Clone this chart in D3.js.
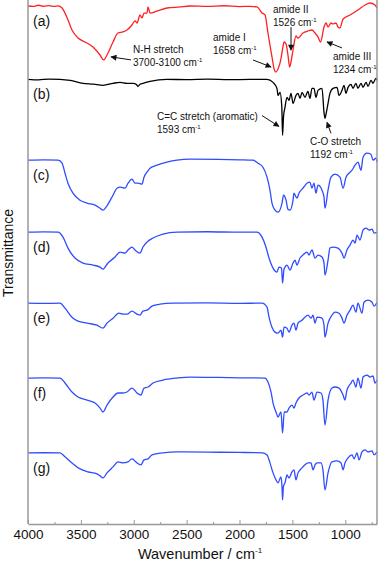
<!DOCTYPE html>
<html lang="en">
<head>
<meta charset="UTF-8" />
<title>FTIR spectra</title>
<script src="https://d3js.org/d3.v7.min.js"></script>
<style>
  body { margin: 0; background: #fff; }
  svg { display: block; font-family: "Liberation Sans", Arial, sans-serif; }
</style>
</head>
<body>
<script>
  // spectra as [wavenumber, transmittance] pairs
  const specA = [[4000,100],[3950,99.5],[3900,101],[3850,99.6],[3800,100.5],[3750,99.4],[3716,100.2],[3678,97.3],[3622,81.3],[3584,67.9],[3527,57.2],[3461,51.9],[3385,45.2],[3319,34.5],[3285,27.9],[3253,34.5],[3196,51.9],[3149,63.9],[3102,65.3],[3064,67.9],[3017,74.6],[2988,80],[2969,77.3],[2941,88],[2922,84],[2903,90.6],[2875,90.6],[2865,98.7],[2846,90.6],[2780,93.3],[2686,97.3],[2563,98.7],[2468,100],[2300,99.4],[2150,100.3],[2000,99.2],[1900,99.6],[1835,98.7],[1787,90.6],[1759,88],[1731,63.9],[1693,31.9],[1670,14.5],[1658,11.8],[1630,18],[1610,28],[1590,45],[1579,51.9],[1560,49.2],[1542,34.5],[1526,18.5],[1513,25.2],[1494,41.2],[1466,59.9],[1447,57.2],[1400,63.9],[1353,66.6],[1315,67.9],[1286,63.9],[1258,58.6],[1234,51.9],[1201,71.9],[1182,77.3],[1163,71.9],[1135,77.3],[1116,76],[1088,77.3],[1069,71.9],[1050,70.6],[1021,82.6],[955,88],[880,94.7],[813,101.3],[766,104],[719,101.3],[700,97.3]];
  const specB = [[4000,100],[3900,99.3],[3800,100.4],[3697,100],[3600,98.5],[3480,94.7],[3380,93.5],[3291,92],[3196,94.7],[3130,96],[3064,94.7],[3007,94.7],[2975,93],[2960,90.6],[2940,93.5],[2913,94.7],[2846,97.3],[2686,100],[2500,99.6],[2300,100.2],[2100,99.5],[1900,100],[1740,100],[1683,96],[1646,88],[1636,78.6],[1617,82.6],[1600,62.6],[1593,25.2],[1584,50],[1570,62.6],[1551,76],[1532,71.9],[1513,81.3],[1494,67.9],[1466,78.6],[1447,81.3],[1428,74.6],[1409,82.6],[1381,76],[1353,84],[1334,74.6],[1315,88],[1296,88],[1277,76],[1258,85.3],[1220,88],[1201,55.9],[1192,47.9],[1180,55],[1163,67.9],[1145,81.3],[1116,88],[1078,89.3],[1059,78.6],[1031,85.3],[1012,92],[993,81.3],[974,89.3],[946,93.3],[927,88],[899,94.7],[880,88],[851,94.7],[832,89.3],[804,96],[785,90.6],[757,98.7],[738,94.7],[710,101.3],[700,98.7]];
  const specC = [[4000,100],[3850,100.3],[3716,100],[3678,96],[3650,82.6],[3622,69.3],[3575,55.9],[3508,46.6],[3442,42.6],[3366,39.9],[3319,35.9],[3291,33.2],[3262,37.2],[3206,50.6],[3158,62.6],[3130,63.9],[3083,62.6],[3054,69.3],[3017,74.6],[2988,69.3],[2960,69.3],[2922,67.9],[2903,77.3],[2875,84],[2846,89.3],[2780,93.3],[2686,97.3],[2591,100],[2468,101.3],[2200,101],[2000,100.5],[1873,100],[1825,96],[1778,90.6],[1740,77.3],[1712,59.9],[1693,42.6],[1664,33.2],[1636,30.5],[1598,42.6],[1584,53.2],[1560,46.6],[1542,34.5],[1523,33.2],[1494,46.6],[1485,55.9],[1457,49.2],[1438,55.9],[1400,62.6],[1362,69.3],[1334,70.6],[1315,62.6],[1296,69.3],[1277,55.9],[1258,66.6],[1220,59.9],[1201,50.6],[1192,35.9],[1163,59.9],[1135,77.3],[1097,81.3],[1050,77.3],[1021,62.6],[993,77.3],[965,82.6],[936,86.6],[908,93.3],[880,97.3],[851,86.6],[832,104],[795,109.4],[757,108],[738,100],[710,102.7],[700,97.3]];
  const specD = [[4000,100],[3850,100.3],[3716,100],[3669,93.3],[3622,78.6],[3556,65.3],[3480,58.6],[3385,55.9],[3319,53.2],[3291,50.6],[3244,58.6],[3177,66.6],[3130,73.3],[3083,71.9],[3054,76],[3017,80],[2988,76],[2941,71.9],[2913,80],[2875,86.6],[2818,92],[2724,97.3],[2591,100],[2300,100.4],[2000,99.8],[1835,100],[1787,93.3],[1750,80],[1721,65.3],[1683,51.9],[1646,46.6],[1627,53.2],[1603,51.9],[1593,31.9],[1580,50],[1570,53.2],[1551,55.9],[1523,49.2],[1494,58.6],[1475,62.6],[1457,55.9],[1428,65.3],[1400,69.3],[1362,73.3],[1343,69.3],[1315,76],[1286,65.3],[1258,69.3],[1220,66.6],[1201,58.6],[1192,42.6],[1163,62.6],[1145,78.6],[1116,80],[1069,78.6],[1031,71.9],[1012,65.3],[984,76],[955,82.6],[927,89.3],[908,85.3],[889,96],[861,89.3],[832,102.7],[804,105.3],[776,102.7],[747,104],[728,98.7],[700,100]];
  const specE = [[4000,100],[3850,99.7],[3697,100],[3650,93.3],[3584,81.3],[3527,76],[3442,73.3],[3348,70.6],[3291,66.6],[3253,73.3],[3196,80],[3140,86.6],[3102,85.3],[3064,85.3],[3017,89.3],[2969,85.3],[2941,84],[2913,89.3],[2875,90.6],[2828,96],[2752,98.7],[2629,100],[2300,100.3],[2000,99.8],[1787,100],[1740,94.7],[1721,81.3],[1693,67.9],[1664,61.3],[1636,59.9],[1608,63.9],[1593,54.6],[1579,67.9],[1551,66.6],[1532,61.3],[1504,70.6],[1485,73.3],[1466,63.9],[1447,73.3],[1409,77.3],[1381,81.3],[1353,84],[1324,80],[1305,84],[1286,73.3],[1267,81.3],[1220,80],[1201,70.6],[1192,54.6],[1163,73.3],[1126,84],[1097,88],[1059,86.6],[1031,80],[1012,73.3],[984,84],[955,90.6],[927,97.3],[899,88],[880,100],[842,86.6],[823,101.3],[785,104],[747,101.3],[728,96],[700,101.3]];
  const specF = [[4000,100],[3850,100.2],[3697,100],[3650,93.3],[3584,81.3],[3527,74.6],[3442,70.6],[3366,66.6],[3319,59.9],[3291,54.6],[3253,63.9],[3196,74.6],[3149,80],[3102,80],[3064,81.3],[3017,86.6],[2969,80],[2932,77.3],[2903,86.6],[2865,88],[2818,93.3],[2724,97.3],[2591,100],[2468,101.3],[2200,100.8],[2000,100.3],[1759,100],[1731,94.7],[1702,81.3],[1683,66.6],[1655,54.6],[1636,47.9],[1608,54.6],[1593,26.5],[1577,54.6],[1551,54.6],[1532,59.9],[1504,63.9],[1485,59.9],[1466,66.6],[1438,73.3],[1400,77.3],[1362,80],[1343,77.3],[1315,81.3],[1296,70.6],[1267,81.3],[1230,80],[1211,70.6],[1192,37.2],[1163,70.6],[1126,86.6],[1097,88],[1059,86.6],[1021,77.3],[1003,70.6],[984,84],[946,93.3],[927,97.3],[899,88],[880,100],[851,86.6],[832,101.3],[795,104],[766,101.3],[738,102.7],[719,93.3],[700,97.3]];
  const specG = [[4000,100],[3850,100.2],[3697,100],[3650,94.7],[3584,86.6],[3508,78.6],[3433,74.6],[3348,71.9],[3319,69.3],[3291,66.6],[3253,73.3],[3196,81.3],[3149,88],[3102,86.6],[3054,88],[3017,92],[2969,86.6],[2932,84],[2903,90.6],[2865,92],[2828,97.3],[2724,100],[2591,101.3],[2300,101],[2000,100.6],[1787,100],[1740,97.3],[1712,86.6],[1683,73.3],[1655,63.9],[1636,59.9],[1608,67.9],[1598,54.6],[1593,37.2],[1585,55],[1570,59.9],[1551,70.6],[1532,66.6],[1504,74.6],[1485,77.3],[1466,63.9],[1447,73.3],[1409,80],[1381,84],[1353,86.6],[1324,86.6],[1305,77.3],[1286,84],[1267,86.6],[1230,86.6],[1211,77.3],[1192,50.6],[1163,73.3],[1126,88],[1078,89.3],[1040,86.6],[1021,77.3],[1003,86.6],[974,93.3],[936,97.3],[917,92],[889,100],[870,90.6],[842,101.3],[813,104],[785,101.3],[747,102.7],[728,97.3],[700,101.3]];

  const spectra = [specA, specB, specC, specD, specE, specF, specG];
  const offsets = [592, 494, 386, 290, 195, 95, -5];   // vertical stacking
  const labels = ["(a)", "(b)", "(c)", "(d)", "(e)", "(f)", "(g)"];
  const colors = ["#ff2020", "#000000", "#2f4cff", "#2f4cff", "#2f4cff", "#2f4cff", "#2f4cff"];

  const xTicks = [4000, 3500, 3000, 2500, 2000, 1500, 1000];
  const xMinorTicks = [3750, 3250, 2750, 2250, 1750, 1250, 750];

  const width = 380, height = 563;
  const plotLeft = 28, plotRight = 377, plotTop = 0, plotBottom = 524;

  const svg = d3.select("body").append("svg")
    .attr("width", width)
    .attr("height", height);

  const x = d3.scaleLinear().domain([4000, 700]).range([plotLeft, plotRight]);
  const y = d3.scaleLinear().domain([0, 700]).range([plotBottom, plotTop]);

  // arrowhead
  svg.append("defs").append("marker")
    .attr("id", "head")
    .attr("viewBox", "0 0 10 10")
    .attr("refX", 9).attr("refY", 5)
    .attr("markerWidth", 7).attr("markerHeight", 6)
    .attr("markerUnits", "userSpaceOnUse")
    .attr("orient", "auto")
    .append("path")
    .attr("d", "M0,0 L10,5 L0,10 z")
    .attr("fill", "#111");

  // spectra
  const line = d3.line().curve(d3.curveMonotoneX);
  spectra.forEach((spec, i) => {
    svg.append("path")
      .attr("d", line(spec.map(d => [x(d[0]), y(d[1] + offsets[i])])))
      .attr("fill", "none")
      .attr("stroke", colors[i])
      .attr("stroke-width", 1.3)
      .attr("stroke-linejoin", "round");

    svg.append("text")
      .attr("x", 33)
      .attr("y", y(100 + offsets[i]) + 20)
      .attr("font-size", 14)
      .attr("fill", "#111")
      .text(labels[i]);
  });

  // frame
  const frame = svg.append("g").attr("stroke", "#999").attr("stroke-width", 1.5);
  frame.append("line").attr("x1", plotLeft).attr("x2", plotLeft).attr("y1", plotTop).attr("y2", plotBottom);
  frame.append("line").attr("x1", plotRight).attr("x2", plotRight).attr("y1", plotTop).attr("y2", plotBottom);

  // x axis
  const xAxis = svg.append("g")
    .attr("transform", `translate(0,${plotBottom})`)
    .call(d3.axisBottom(x).tickValues(xTicks).tickFormat(d3.format("d"))
      .tickSizeInner(-4).tickSizeOuter(0).tickPadding(5));
  xAxis.select(".domain").attr("stroke", "#999").attr("stroke-width", 1.5);
  xAxis.selectAll(".tick line").attr("stroke", "#999");
  xAxis.selectAll("text")
    .attr("font-size", 13.5)
    .attr("font-family", "Liberation Sans, Arial, sans-serif")
    .attr("fill", "#111");

  svg.append("g")
    .attr("transform", `translate(0,${plotBottom})`)
    .call(d3.axisBottom(x).tickValues(xMinorTicks).tickSizeInner(-2).tickSizeOuter(0).tickFormat(""))
    .call(g => g.select(".domain").remove())
    .selectAll(".tick line").attr("stroke", "#999");

  // axis titles
  const xt = svg.append("text")
    .attr("x", 200).attr("y", 559)
    .attr("text-anchor", "middle")
    .attr("font-size", 14.5)
    .attr("fill", "#111");
  xt.append("tspan").text("Wavenumber / cm");
  xt.append("tspan").attr("dy", -6).attr("font-size", 8).text("-1");

  svg.append("text")
    .attr("transform", "translate(13,253) rotate(-90)")
    .attr("text-anchor", "middle")
    .attr("font-size", 14)
    .attr("fill", "#111")
    .text("Transmittance");

  // annotations: text lines, and arrows with tip in data units, tail offset in px
  function note(tx, ty, l1, l2) {
    const g = svg.append("g").attr("font-size", 10).attr("fill", "#111");
    g.append("text").attr("x", tx).attr("y", ty).text(l1);
    const t2 = g.append("text").attr("x", tx).attr("y", ty + 13);
    t2.append("tspan").text(l2);
    t2.append("tspan").attr("dy", -4).attr("font-size", 6).text("-1");
  }
  function arrow(w, v, dx, dy) {
    const x2 = x(w), y2 = y(v);
    svg.append("line")
      .attr("x1", x2 + dx).attr("y1", y2 + dy)
      .attr("x2", x2).attr("y2", y2)
      .attr("stroke", "#111")
      .attr("stroke-width", 1)
      .attr("marker-end", "url(#head)");
  }

  note(133, 53, "N-H stretch", "3700-3100 cm");
  arrow(3215, 624, 20, 3);
  note(213, 41, "amide I", "1658 cm");
  arrow(1702, 610.5, -18, -7);
  note(273, 13, "amide II", "1526 cm");
  arrow(1513, 633, 0, -23);
  note(333, 60, "amide III", "1234 cm");
  arrow(1173, 644, 15, 6);
  note(157, 120, "C=C stretch (aromatic)", "1593 cm");
  arrow(1627, 531, -17, -11);
  note(310, 145, "C-O stretch", "1192 cm");
  arrow(1173, 536.6, 4, 11);
</script>
</body>
</html>
